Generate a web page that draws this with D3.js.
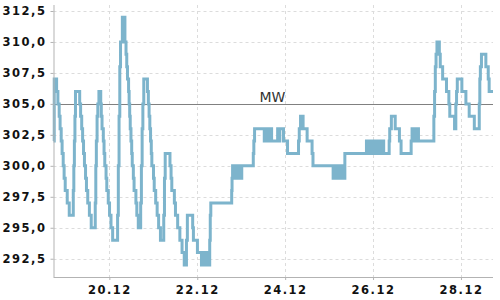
<!DOCTYPE html>
<html>
<head>
<meta charset="utf-8">
<script src="https://cdn.jsdelivr.net/npm/d3@7"></script>
<style>
  html, body { margin: 0; padding: 0; background: #fff; }
  svg { display: block; }
  .tick-label { font-family: "DejaVu Sans", sans-serif; font-size: 11.5px; font-weight: bold; letter-spacing: 1.5px; fill: #111; }
</style>
</head>
<body>
<svg id="chart" width="500" height="300"></svg>
<script>
// ---- data ----
// hours since 18.12 17:30 (each level holds until the next entry)
const hours = [
  0,0.4,1.7,2.4,3.1,3.6,4.2,4.7,5.3,5.8,6.4,7.5,8.6,
  10.8,11.1,11.4,11.7,12.0,
  14.3,14.8,15.4,15.9,16.4,16.9,17.5,18.0,18.7,19.6,20.6,
  22.8,23.1,23.4,23.8,24.2,24.8,
  25.8,26.1,26.5,27.2,27.6,28.0,28.7,29.1,29.9,30.6,31.4,32.3,
  35.0,35.4,35.8,36.2,36.6,37.6,
  39.0,39.6,40.0,40.4,41.0,41.3,41.6,41.9,42.3,42.7,43.0,43.6,44.0,45.0,45.5,46.3,
  47.6,48.0,48.4,48.8,49.3,
  51.3,51.8,52.2,52.6,53.0,53.4,53.7,54.6,55.0,55.8,56.6,57.4,58.4,
  60.2,60.6,61.0,
  63.6,64.2,64.6,66.0,66.6,67.8,69.0,70.2,71.4,
  72.6,73.1,76.0,76.4,78.6,
  80.8,81.3,81.8,82.3,82.8,83.3,83.8,84.3,84.8,
  85.3,85.6,85.9,
  97.3,97.5,97.8,
  98.3,98.8,99.3,99.8,100.3,100.8,101.3,101.8,102.3,102.8,
  109.1,109.4,109.8,
  115.1,115.6,116.1,116.6,117.1,117.6,118.1,118.6,119.1,
  122.4,123.2,123.6,125.6,127.8,
  133.8,134.2,134.9,136.3,138.5,141.2,141.7,
  152.7,153.2,153.7,154.2,154.7,155.2,155.7,156.2,156.7,157.2,157.7,158.2,158.7,159.1,
  170.9,171.4,171.9,172.4,172.9,173.4,173.9,174.4,174.9,175.4,175.9,176.4,176.9,177.4,177.9,178.4,178.9,179.4,179.9,180.3,
  183.3,183.6,184.5,186.6,188.9,189.8,
  195.3,195.8,196.3,196.8,197.3,197.8,198.3,198.8,199.3,
  207.7,208.1,208.5,208.9,209.4,210.7,211.2,212.5,214.6,215.9,216.4,
  219.0,219.7,220.1,220.5,223.0,225.2,227.0,229.8,
  232.5,232.8,233.1,233.7,236.1,237.4,237.9,240
];
const values = [
  302,307,306,305,304,303,302,301,300,299,298,297,296,
  298,300,302,304,306,
  305,304,303,302,301,300,299,298,297,296,295,
  297,300,302,304,305,306,
  305,304,303,302,301,300,299,298,297,296,295,294,
  296,300,304,308,310,312,
  310,309,308,307,306,305,304,303,302,301,300,299,298,297,296,295,
  297,300,303,305,307,
  306,305,304,303,302,301,300,299,298,297,296,295,294,
  296,299,301,
  300,299,298,297,296,295,294,293,292,
  294,296,295,294,293,
  292,293,292,293,292,293,292,293,292,
  294,296,297,
  298,299,300,
  299,300,299,300,299,300,299,300,299,300,
  301,302,303,
  302,303,302,303,302,303,302,303,302,
  303,302,303,302,301,
  302,303,304,303,302,301,300,
  299,300,299,300,299,300,299,300,299,300,299,300,299,301,
  302,301,302,301,302,301,302,301,302,301,302,301,302,301,302,301,302,301,302,301,
  302,303,304,303,302,301,
  302,303,302,303,302,303,302,303,302,
  304,306,308,309,310,309,308,307,306,305,304,
  303,305,306,307,306,305,304,303,
  305,307,308,309,308,307,306,306
];
const yTicks = [292.5, 295, 297.5, 300, 302.5, 305, 307.5, 310, 312.5];
const xTickDays = [20, 22, 24, 26, 28];
const meanValue = 305;
const meanLabel = "MW";

// ---- setup ----
const start = new Date(2023, 11, 18, 17, 30);
const end = new Date(2023, 11, 28, 17, 30);
const n = Math.min(hours.length, values.length);
const data = hours.slice(0, n).map((h, i) => ({ t: new Date(start.getTime() + h * 3600000), v: values[i] }));

const mLeft = 53.5, mRight = 493, mTop = 5, mBottom = 277;
const svg = d3.select("#chart");
const x = d3.scaleTime().domain([start, end]).range([mLeft, mRight]);
const y = d3.scaleLinear().domain([291, 313]).range([277.3, 4.8]);
const fmtY = v => d3.format(".1f")(v).replace(".", ",");
const fmtX = d3.timeFormat("%d.%m");
const xTicks = xTickDays.map(d => new Date(2023, 11, d));

// grid
const grid = svg.append("g");
grid.selectAll(".hg").data(yTicks).join("line")
  .attr("x1", mLeft).attr("x2", mRight)
  .attr("y1", d => Math.round(y(d)) + 0.5).attr("y2", d => Math.round(y(d)) + 0.5)
  .attr("stroke", "#dcdcdc").attr("stroke-dasharray", "3,3");
grid.selectAll(".vg").data(xTicks).join("line")
  .attr("x1", d => Math.round(x(d)) + 0.5).attr("x2", d => Math.round(x(d)) + 0.5)
  .attr("y1", mTop).attr("y2", mBottom)
  .attr("stroke", "#dcdcdc").attr("stroke-dasharray", "3,3");

// mean line
svg.append("line")
  .attr("x1", mLeft).attr("x2", mRight)
  .attr("y1", Math.round(y(meanValue)) + 0.5).attr("y2", Math.round(y(meanValue)) + 0.5)
  .attr("stroke", "#808080").attr("stroke-width", 1);
svg.append("text")
  .attr("x", 259.5).attr("y", 101.5)
  .attr("font-family", "DejaVu Sans, sans-serif").attr("font-size", 14)
  .attr("fill", "#333").text(meanLabel);

// series line
const line = d3.line().x(d => x(d.t)).y(d => y(d.v)).curve(d3.curveStepAfter);
svg.append("path").datum(data)
  .attr("d", line).attr("fill", "none")
  .attr("stroke", "#7db4cc").attr("stroke-width", 3);

// axes
const yAxis = d3.axisLeft(y).tickValues(yTicks).tickFormat(fmtY).tickSize(3).tickPadding(4);
const gy = svg.append("g").attr("transform", `translate(${mLeft},0)`).call(yAxis);
gy.select(".domain").attr("d", `M0.5,${mTop}V${mBottom}`).attr("stroke", "#b3b3b3");
gy.selectAll(".tick line").attr("stroke", "#b3b3b3");
gy.selectAll(".tick text").attr("class", "tick-label").attr("font-family", null).attr("font-size", null).attr("fill", null);

const xAxis = d3.axisBottom(x).tickValues(xTicks).tickFormat(fmtX).tickSize(3).tickPadding(6);
const gx = svg.append("g").attr("transform", `translate(0,${mBottom})`).call(xAxis);
gx.select(".domain").attr("d", `M${mLeft},0.5H${mRight}`).attr("stroke", "#b3b3b3");
gx.selectAll(".tick line").attr("stroke", "#b3b3b3");
gx.selectAll(".tick text").attr("class", "tick-label").attr("font-family", null).attr("font-size", null).attr("fill", null);
</script>
</body>
</html>
